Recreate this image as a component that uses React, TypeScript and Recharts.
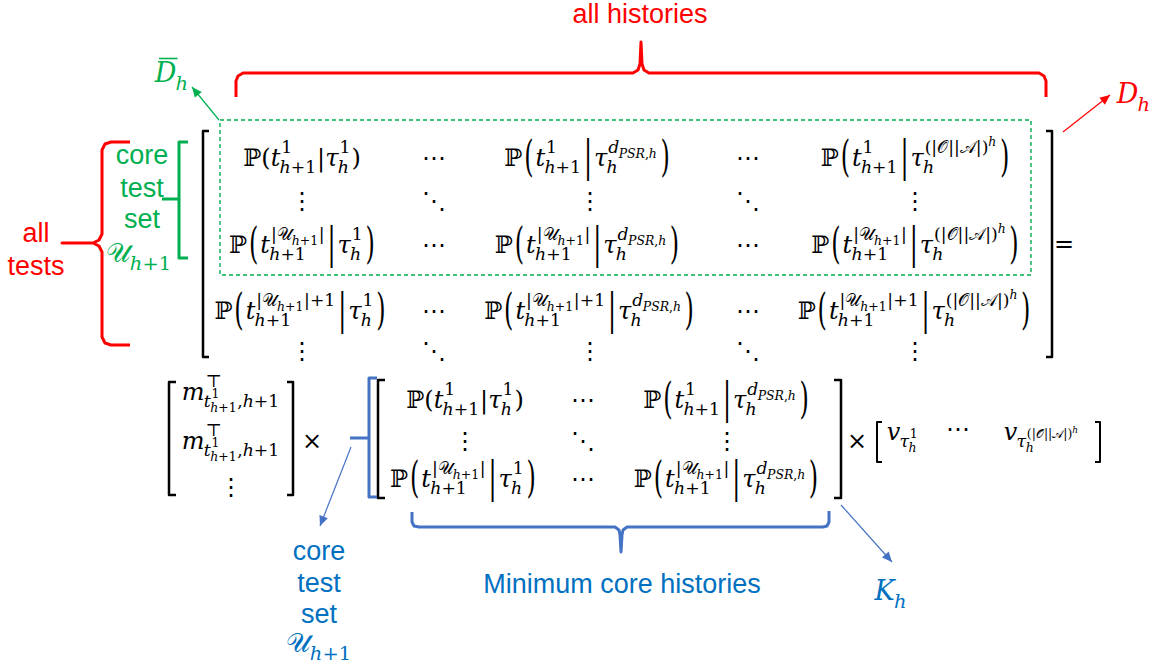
import React from 'react';
import { ScatterChart, Scatter, XAxis, YAxis } from 'recharts';

const WIDTH = 1159;
const HEIGHT = 668;

const RED = '#ff0000';
const GREEN = '#00b050';
const BLUE = '#0070c0';
const BLUE_LINE = '#4472c4';
const INK = '#000000';

const MATH_FONT = "'DejaVu Serif', 'DejaVu Sans', serif";
const SANS_FONT = "'Liberation Sans', Arial, sans-serif";

// plain word labels
const redLabels = [
  { x: 640, y: 14, text: 'all histories' },
  { x: 36, y: 233, text: 'all' },
  { x: 36, y: 266, text: 'tests' },
];
const greenLabels = [
  { x: 142, y: 155, text: 'core' },
  { x: 142, y: 188, text: 'test' },
  { x: 142, y: 219, text: 'set' },
];
const blueLabels = [
  { x: 319, y: 551, text: 'core' },
  { x: 319, y: 583, text: 'test' },
  { x: 319, y: 614, text: 'set' },
  { x: 622, y: 584, text: 'Minimum core histories' },
];

// symbol labels (tiny tex: _{} sub, ^{} sup, \L \M \R tall ( | ), \O overline)
const redSymbols = [{ x: 1134, y: 93, tex: 'D_{h}' }];
const greenSymbols = [
  { x: 172, y: 72, tex: '\\OD_{h}' },
  { x: 139, y: 252, tex: '𝒰_{h+1}' },
];
const blueSymbols = [
  { x: 319, y: 642, tex: '𝒰_{h+1}' },
  { x: 891, y: 590, tex: 'K_{h}' },
];

const P_1_1 = 'ℙ(t_{h+1}^{1}|τ_{h}^{1})';
const P_1_D = 'ℙ\\L t_{h+1}^{1}\\M τ_{h}^{d_{PSR,h}}\\R';
const P_1_N = 'ℙ\\L t_{h+1}^{1}\\M τ_{h}^{(|𝒪||𝒜|)^{h}}\\R';
const P_U_1 = 'ℙ\\L t_{h+1}^{|𝒰_{h+1}|}\\M τ_{h}^{1}\\R';
const P_U_D = 'ℙ\\L t_{h+1}^{|𝒰_{h+1}|}\\M τ_{h}^{d_{PSR,h}}\\R';
const P_U_N = 'ℙ\\L t_{h+1}^{|𝒰_{h+1}|}\\M τ_{h}^{(|𝒪||𝒜|)^{h}}\\R';
const P_V_1 = 'ℙ\\L t_{h+1}^{|𝒰_{h+1}|+1}\\M τ_{h}^{1}\\R';
const P_V_D = 'ℙ\\L t_{h+1}^{|𝒰_{h+1}|+1}\\M τ_{h}^{d_{PSR,h}}\\R';
const P_V_N = 'ℙ\\L t_{h+1}^{|𝒰_{h+1}|+1}\\M τ_{h}^{(|𝒪||𝒜|)^{h}}\\R';

const historyMatrixCells = [
  { x: 302, y: 157, tex: P_1_1 },
  { x: 434, y: 157, tex: '⋯' },
  { x: 588, y: 157, tex: P_1_D },
  { x: 748, y: 157, tex: '⋯' },
  { x: 916, y: 157, tex: P_1_N },
  { x: 302, y: 200, tex: '⋮' },
  { x: 434, y: 200, tex: '⋱' },
  { x: 590, y: 200, tex: '⋮' },
  { x: 748, y: 200, tex: '⋱' },
  { x: 915, y: 200, tex: '⋮' },
  { x: 303, y: 244, tex: P_U_1 },
  { x: 434, y: 244, tex: '⋯' },
  { x: 588, y: 244, tex: P_U_D },
  { x: 748, y: 244, tex: '⋯' },
  { x: 916, y: 244, tex: P_U_N },
  { x: 301, y: 310, tex: P_V_1 },
  { x: 434, y: 310, tex: '⋯' },
  { x: 590, y: 310, tex: P_V_D },
  { x: 748, y: 310, tex: '⋯' },
  { x: 915, y: 310, tex: P_V_N },
  { x: 302, y: 350, tex: '⋮' },
  { x: 434, y: 350, tex: '⋱' },
  { x: 590, y: 350, tex: '⋮' },
  { x: 748, y: 350, tex: '⋱' },
  { x: 915, y: 350, tex: '⋮' },
];

const coreMatrixCells = [
  { x: 465, y: 399, tex: P_1_1 },
  { x: 583, y: 399, tex: '⋯' },
  { x: 727, y: 399, tex: P_1_D },
  { x: 465, y: 440, tex: '⋮' },
  { x: 583, y: 440, tex: '⋱' },
  { x: 727, y: 440, tex: '⋮' },
  { x: 464, y: 478, tex: P_U_1 },
  { x: 583, y: 478, tex: '⋯' },
  { x: 727, y: 478, tex: P_U_D },
];

const testVectorCells = [
  { x: 231, y: 391, tex: 'm_{t_{h+1}^{1},h+1}^{⊤}' },
  { x: 231, y: 440, tex: 'm_{t_{h+1}^{1},h+1}^{⊤}' },
  { x: 231, y: 486, tex: '⋮' },
];

const historyVectorCells = [
  { x: 903, y: 431, tex: 'v_{τ_{h}^{1}}' },
  { x: 958, y: 428, tex: '⋯' },
  { x: 1042, y: 431, tex: 'v_{τ_{h}^{(|𝒪||𝒜|)^{h}}}' },
];

const operators = [
  { x: 1064, y: 243, tex: '=' },
  { x: 312, y: 440, tex: '×' },
  { x: 857, y: 440, tex: '×' },
];

// strokes
const allHistoriesBrace = [
  { x: 236, y: 97 }, { x: 236, y: 81 }, { x: 238, y: 76 }, { x: 243, y: 73 },
  { x: 633, y: 73 }, { x: 638, y: 70 }, { x: 640, y: 64 }, { x: 641, y: 42 },
  { x: 642, y: 64 }, { x: 644, y: 70 }, { x: 649, y: 73 },
  { x: 1039, y: 73 }, { x: 1044, y: 76 }, { x: 1046, y: 81 }, { x: 1046, y: 97 },
];
const allTestsBrace = [
  { x: 130, y: 142 }, { x: 111, y: 142 }, { x: 105, y: 144 }, { x: 102, y: 150 },
  { x: 102, y: 234 }, { x: 99, y: 240 }, { x: 93, y: 243 }, { x: 62, y: 243 },
  { x: 93, y: 243 }, { x: 99, y: 246 }, { x: 102, y: 252 },
  { x: 102, y: 337 }, { x: 105, y: 343 }, { x: 111, y: 345 }, { x: 130, y: 345 },
];
const coreSetBracket = [{ x: 188, y: 142 }, { x: 179, y: 142 }, { x: 179, y: 258 }, { x: 188, y: 258 }];
const coreSetStub = [{ x: 162, y: 199 }, { x: 179, y: 199 }];
const coreBox = [
  { x: 220, y: 120 }, { x: 1031, y: 120 }, { x: 1031, y: 275 }, { x: 220, y: 275 }, { x: 220, y: 120 },
];
const bigLeft = [{ x: 209, y: 131 }, { x: 203, y: 131 }, { x: 203, y: 357 }, { x: 209, y: 357 }];
const bigRight = [{ x: 1046, y: 131 }, { x: 1052, y: 131 }, { x: 1052, y: 357 }, { x: 1046, y: 357 }];
const testLeft = [{ x: 176, y: 382 }, { x: 169, y: 382 }, { x: 169, y: 495 }, { x: 176, y: 495 }];
const testRight = [{ x: 287, y: 382 }, { x: 293, y: 382 }, { x: 293, y: 495 }, { x: 287, y: 495 }];
const coreLeft = [{ x: 385, y: 380 }, { x: 378, y: 380 }, { x: 378, y: 498 }, { x: 385, y: 498 }];
const coreRight = [{ x: 834, y: 380 }, { x: 841, y: 380 }, { x: 841, y: 498 }, { x: 834, y: 498 }];
const rowLeft = [{ x: 882, y: 422 }, { x: 877, y: 422 }, { x: 877, y: 462 }, { x: 882, y: 462 }];
const rowRight = [{ x: 1095, y: 422 }, { x: 1100, y: 422 }, { x: 1100, y: 462 }, { x: 1095, y: 462 }];
const blueRowBracket = [{ x: 377, y: 378 }, { x: 369, y: 378 }, { x: 369, y: 497 }, { x: 377, y: 497 }];
const blueRowStub = [{ x: 350, y: 438 }, { x: 369, y: 438 }];
const minimumBrace = [
  { x: 412, y: 512 }, { x: 412, y: 522 }, { x: 414, y: 526 }, { x: 419, y: 527 },
  { x: 615, y: 527 }, { x: 619, y: 530 }, { x: 620, y: 535 }, { x: 621, y: 552 },
  { x: 622, y: 535 }, { x: 623, y: 530 }, { x: 627, y: 527 },
  { x: 823, y: 527 }, { x: 827, y: 526 }, { x: 829, y: 522 }, { x: 829, y: 511 },
];

const dBarArrow = [{ x: 219, y: 120 }, { x: 192, y: 87 }];
const dArrow = [{ x: 1063, y: 132 }, { x: 1110, y: 95 }];
const coreArrow = [{ x: 351, y: 447 }, { x: 320, y: 526 }];
const kArrow = [{ x: 841, y: 505 }, { x: 892, y: 562 }];

const strokes = [
  { data: allHistoriesBrace, color: RED, width: 3 },
  { data: allTestsBrace, color: RED, width: 3 },
  { data: coreSetBracket, color: GREEN, width: 3 },
  { data: coreSetStub, color: GREEN, width: 3 },
  { data: coreBox, color: GREEN, width: 1.4, dash: '4 3' },
  { data: bigLeft, color: INK, width: 2.5 },
  { data: bigRight, color: INK, width: 2.5 },
  { data: testLeft, color: INK, width: 2.5 },
  { data: testRight, color: INK, width: 2.5 },
  { data: coreLeft, color: INK, width: 2.5 },
  { data: coreRight, color: INK, width: 2.5 },
  { data: rowLeft, color: INK, width: 2 },
  { data: rowRight, color: INK, width: 2 },
  { data: blueRowBracket, color: BLUE_LINE, width: 3 },
  { data: blueRowStub, color: BLUE_LINE, width: 3 },
  { data: minimumBrace, color: BLUE_LINE, width: 3 },
];

const arrows = [
  { data: dBarArrow, color: GREEN },
  { data: dArrow, color: RED },
  { data: coreArrow, color: BLUE_LINE },
  { data: kArrow, color: BLUE_LINE },
];

// ---------- tiny math typesetter -------------
type Atom = { ch: string; big?: boolean; bar?: boolean; sub?: Atom[]; sup?: Atom[] };
type Glyph = { x: number; y: number; w: number; text: string; size: number; italic: boolean; big: boolean; bar: boolean };

const TALL = 1.8;
const SCRIPT = 0.72;

function parseTex(src: string): Atom[] {
  const c = Array.from(src);
  let i = 0;
  const readAtom = (): Atom | null => {
    const ch = c[i++];
    if (ch === '\\') {
      const code = c[i++];
      if (code === 'O') {
        const a = readAtom();
        if (a) a.bar = true;
        return a;
      }
      return { ch: code === 'L' ? '(' : code === 'R' ? ')' : '|', big: true };
    }
    return { ch };
  };
  const readGroup = (): Atom[] => {
    if (c[i] === '{') {
      i++;
      const out = readSeq();
      i++;
      return out;
    }
    const a = readAtom();
    return a ? [a] : [];
  };
  const readSeq = (): Atom[] => {
    const out: Atom[] = [];
    while (i < c.length && c[i] !== '}') {
      if (c[i] === ' ') {
        i++;
        continue;
      }
      if (c[i] === '_' || c[i] === '^') {
        const kind = c[i++];
        const g = readGroup();
        const last = out[out.length - 1];
        if (last) {
          if (kind === '_') last.sub = g;
          else last.sup = g;
        }
        continue;
      }
      const a = readAtom();
      if (a) out.push(a);
    }
    return out;
  };
  return readSeq();
}

let measureCtx: CanvasRenderingContext2D | null = null;
function measure(text: string, size: number, italic: boolean) {
  if (!measureCtx) measureCtx = document.createElement('canvas').getContext('2d');
  if (!measureCtx) return size * 0.6 * text.length;
  measureCtx.font = `${italic ? 'italic ' : ''}${size}px ${MATH_FONT}`;
  return measureCtx.measureText(text).width;
}

const isItalic = (ch: string) => /^[A-Za-z\u03b1-\u03c9]$/.test(ch);

function layoutAtoms(atoms: Atom[], x0: number, y: number, size: number, out: Glyph[]): number {
  let x = x0;
  for (const a of atoms) {
    const italic = isItalic(a.ch);
    const pad = a.big ? size * 0.08 : 0;
    x += pad;
    const w = measure(a.ch, size, italic);
    out.push({ x, y, w, text: a.ch, size, italic, big: !!a.big, bar: !!a.bar });
    x += w + pad;
    const ss = size * SCRIPT;
    let sw = 0;
    if (a.sup) {
      const lift = a.sub ? 0.52 : 0.42;
      const kern = italic ? size * 0.04 : 0;
      sw = Math.max(sw, layoutAtoms(a.sup, x + kern, y - size * lift, ss, out) + kern);
    }
    if (a.sub) {
      const kern = italic ? size * 0.03 : 0;
      sw = Math.max(sw, layoutAtoms(a.sub, x - kern, y + size * 0.3, ss, out) - kern);
    }
    if (sw > 0) x += sw + size * 0.04;
  }
  return x - x0;
}

function MathText({ cx, cy, tex, size, color }: { cx: number; cy: number; tex: string; size: number; color: string }) {
  const glyphs: Glyph[] = [];
  const width = layoutAtoms(parseTex(tex), 0, 0, size, glyphs);
  const x0 = cx - width / 2;
  const base = cy + size * 0.36;
  const plain = glyphs.filter((g) => !g.big);
  const tall = glyphs.filter((g) => g.big);
  return (
    <g>
      <text fill={color} fontFamily={MATH_FONT}>
        {plain.map((g, i) => (
          <tspan key={i} x={x0 + g.x} y={base + g.y} fontSize={g.size} fontStyle={g.italic ? 'italic' : 'normal'}>
            {g.text}
          </tspan>
        ))}
      </text>
      {tall.map((g, i) => {
        const mid = base + g.y - g.size * 0.3;
        return (
          <text
            key={`t${i}`}
            x={x0 + g.x}
            y={base + g.y}
            fontSize={g.size}
            fill={color}
            fontFamily={MATH_FONT}
            transform={`translate(0 ${mid}) scale(1 ${TALL}) translate(0 ${-mid})`}
          >
            {g.text}
          </text>
        );
      })}
      {glyphs
        .filter((g) => g.bar)
        .map((g, i) => (
          <line
            key={`b${i}`}
            x1={x0 + g.x + g.w * 0.2}
            x2={x0 + g.x + g.w * 1.05}
            y1={base + g.y - g.size * 0.86}
            y2={base + g.y - g.size * 0.86}
            stroke={color}
            strokeWidth={g.size * 0.06}
          />
        ))}
    </g>
  );
}

const mathShape = (size: number, color: string) => (props: any) =>
  <MathText cx={props.cx} cy={props.cy} tex={props.payload.tex} size={size} color={color} />;

const wordShape = (size: number, color: string) => (props: any) => (
  <text x={props.cx} y={props.cy + size * 0.35} textAnchor="middle" fontFamily={SANS_FONT} fontSize={size} fill={color}>
    {props.payload.text}
  </text>
);

const hidden = () => <g />;

const arrowHead = (pts: { x: number; y: number }[], color: string) => (props: any) => {
  const a = pts[pts.length - 2];
  const b = pts[pts.length - 1];
  const ang = (Math.atan2(b.y - a.y, b.x - a.x) * 180) / Math.PI;
  return (
    <path
      d="M0,0 L-10,-4.5 L-10,4.5 Z"
      transform={`translate(${props.cx},${props.cy}) rotate(${ang})`}
      fill={color}
    />
  );
};

const MATH_SIZE = 24;
const LABEL_SIZE = 27;

export default function App() {
  return (
    <div style={{ position: 'absolute', left: 0, top: 0, background: '#ffffff' }}>
      <ScatterChart width={WIDTH} height={HEIGHT} margin={{ top: 0, right: 0, bottom: 0, left: 0 }}>
        <XAxis type="number" dataKey="x" domain={[0, WIDTH]} hide />
        <YAxis type="number" dataKey="y" domain={[0, HEIGHT]} reversed hide />

        {strokes.map((s, i) => (
          <Scatter
            key={`s${i}`}
            data={s.data}
            line={{ stroke: s.color, strokeWidth: s.width, strokeDasharray: s.dash, strokeLinejoin: 'round' }}
            lineType="joint"
            shape={hidden}
            isAnimationActive={false}
          />
        ))}
        {arrows.map((a, i) => (
          <Scatter
            key={`a${i}`}
            data={a.data}
            line={{ stroke: a.color, strokeWidth: 1.2 }}
            lineType="joint"
            shape={hidden}
            isAnimationActive={false}
          />
        ))}
        {arrows.map((a, i) => (
          <Scatter
            key={`h${i}`}
            data={[a.data[a.data.length - 1]]}
            shape={arrowHead(a.data, a.color)}
            isAnimationActive={false}
          />
        ))}

        <Scatter data={redLabels} shape={wordShape(LABEL_SIZE, RED)} isAnimationActive={false} />
        <Scatter data={greenLabels} shape={wordShape(LABEL_SIZE, GREEN)} isAnimationActive={false} />
        <Scatter data={blueLabels} shape={wordShape(LABEL_SIZE, BLUE)} isAnimationActive={false} />

        <Scatter data={redSymbols} shape={mathShape(LABEL_SIZE, RED)} isAnimationActive={false} />
        <Scatter data={greenSymbols} shape={mathShape(LABEL_SIZE, GREEN)} isAnimationActive={false} />
        <Scatter data={blueSymbols} shape={mathShape(LABEL_SIZE, BLUE)} isAnimationActive={false} />

        <Scatter data={historyMatrixCells} shape={mathShape(MATH_SIZE, INK)} isAnimationActive={false} />
        <Scatter data={coreMatrixCells} shape={mathShape(MATH_SIZE, INK)} isAnimationActive={false} />
        <Scatter data={testVectorCells} shape={mathShape(MATH_SIZE, INK)} isAnimationActive={false} />
        <Scatter data={historyVectorCells} shape={mathShape(MATH_SIZE, INK)} isAnimationActive={false} />
        <Scatter data={operators} shape={mathShape(MATH_SIZE, INK)} isAnimationActive={false} />
      </ScatterChart>
    </div>
  );
}
